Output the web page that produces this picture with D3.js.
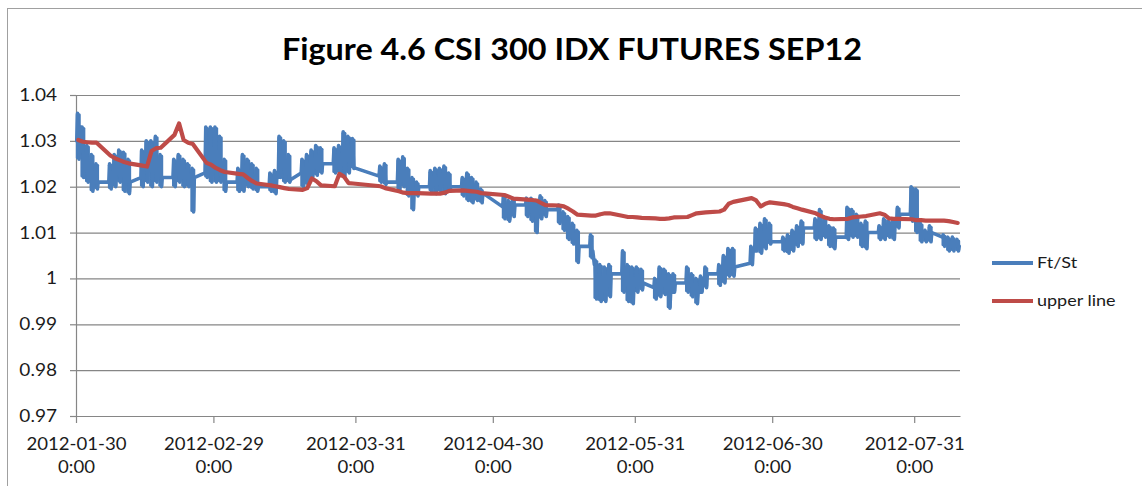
<!DOCTYPE html>
<html>
<head>
<meta charset="utf-8">
<script src="https://cdn.jsdelivr.net/npm/d3@7"></script>
<style>
  html, body { margin: 0; padding: 0; background: #fff; }
  svg { display: block; font-family: Lato, 'Open Sans', sans-serif; }
</style>
</head>
<body>
<svg id="chart" width="1142" height="486"></svg>
<script>
// trading days shown on the chart (one bar per day)
const tradingDays = [
  '2012-01-30','2012-01-31','2012-02-01','2012-02-02','2012-02-03',
  '2012-02-06','2012-02-07','2012-02-08','2012-02-09','2012-02-10',
  '2012-02-13','2012-02-14','2012-02-15','2012-02-16','2012-02-17',
  '2012-02-20','2012-02-21','2012-02-22','2012-02-23','2012-02-24',
  '2012-02-27','2012-02-28','2012-02-29','2012-03-01','2012-03-02',
  '2012-03-05','2012-03-06','2012-03-07','2012-03-08','2012-03-09',
  '2012-03-12','2012-03-13','2012-03-14','2012-03-15','2012-03-16',
  '2012-03-19','2012-03-20','2012-03-21','2012-03-22','2012-03-23',
  '2012-03-26','2012-03-27','2012-03-28','2012-03-29','2012-03-30',
  '2012-04-05','2012-04-06',
  '2012-04-09','2012-04-10','2012-04-11','2012-04-12','2012-04-13',
  '2012-04-16','2012-04-17','2012-04-18','2012-04-19','2012-04-20',
  '2012-04-23','2012-04-24','2012-04-25','2012-04-26','2012-04-27',
  '2012-05-02','2012-05-03','2012-05-04',
  '2012-05-07','2012-05-08','2012-05-09','2012-05-10','2012-05-11',
  '2012-05-14','2012-05-15','2012-05-16','2012-05-17','2012-05-18',
  '2012-05-21','2012-05-22','2012-05-23','2012-05-24','2012-05-25',
  '2012-05-28','2012-05-29','2012-05-30','2012-05-31','2012-06-01',
  '2012-06-04','2012-06-05','2012-06-06','2012-06-07','2012-06-08',
  '2012-06-11','2012-06-12','2012-06-13','2012-06-14','2012-06-15',
  '2012-06-18','2012-06-19','2012-06-20','2012-06-21',
  '2012-06-25','2012-06-26','2012-06-27','2012-06-28','2012-06-29',
  '2012-07-02','2012-07-03','2012-07-04','2012-07-05','2012-07-06',
  '2012-07-09','2012-07-10','2012-07-11','2012-07-12','2012-07-13',
  '2012-07-16','2012-07-17','2012-07-18','2012-07-19','2012-07-20',
  '2012-07-23','2012-07-24','2012-07-25','2012-07-26','2012-07-27',
  '2012-07-30','2012-07-31','2012-08-01','2012-08-02','2012-08-03',
  '2012-08-06','2012-08-07','2012-08-08','2012-08-09'
]

// Ft/St intraday range per day
const ftOpen = [
  1.030,1.033,1.024,1.022,1.021, 1.021,1.022,1.024,1.023,1.022,
  1.022,1.025,1.026,1.024,1.023, 1.022,1.023,1.022,1.023,1.021,
  1.023,1.026,1.025,1.024,1.022, 1.021,1.022,1.023,1.022,1.021,
  1.020,1.021,1.022,1.026,1.023, 1.023,1.022,1.024,1.025,1.024,
  1.025,1.026,1.025,1.027,1.026, 1.0223,1.022,
  1.021,1.022,1.021,1.020,1.019, 1.020,1.022,1.021,1.022,1.021,
  1.020,1.021,1.020,1.019,1.018, 1.0156,1.015,1.014,
  1.016,1.015,1.016,1.015,1.016, 1.015,1.014,1.012,1.010,1.009,
  1.007,1.003,0.999,0.998,1.000, 1.001,1.002,0.998,0.999,1.000,
  0.998,0.997,0.999,0.998,0.997, 0.999,1.000,0.998,0.997,0.999,
  1.001,1.002,1.003,1.004, 1.0033,1.006,1.009,1.008,1.010,
  1.008,1.007,1.008,1.009,1.010, 1.011,1.012,1.011,1.010,1.009,
  1.009,1.012,1.011,1.010,1.009, 1.010,1.010,1.011,1.010,1.012,
  1.014,1.017,1.011,1.010,1.009, 1.009,1.008,1.007,1.008
]
const ftHigh = [
  1.036,1.033,1.029,1.027,1.025, 1.025,1.027,1.028,1.0275,1.026,
  1.028,1.030,1.030,1.031,1.027, 1.026,1.027,1.026,1.025,1.024,
  1.033,1.033,1.033,1.031,1.026, 1.024,1.027,1.026,1.025,1.024,
  1.023,1.0235,1.031,1.030,1.027, 1.026,1.027,1.028,1.029,1.0285,
  1.0285,1.029,1.032,1.031,1.0305, 1.0245,1.025,
  1.026,1.0265,1.024,1.022,1.021, 1.0235,1.024,1.024,1.0245,1.023,
  1.022,1.023,1.022,1.021,1.0195, 1.018,1.017,1.0175,
  1.0175,1.0175,1.017,1.018,1.017, 1.016,1.0145,1.0135,1.012,1.0105,
  1.0095,1.004,1.003,1.0025,1.003, 1.006,1.003,1.0025,1.0025,1.002,
  1.000,1.0025,1.002,1.001,1.001, 1.0025,1.001,1.000,1.0005,1.0025,
  1.003,1.005,1.0065,1.0065, 1.007,1.011,1.012,1.013,1.012,
  1.009,1.0095,1.0105,1.0115,1.0125, 1.013,1.015,1.013,1.0115,1.011,
  1.0155,1.015,1.014,1.012,1.0125, 1.0115,1.013,1.0125,1.013,1.0155,
  1.020,1.0195,1.012,1.0105,1.0115, 1.0095,1.009,1.009,1.0085
]
const ftLow = [
  1.026,1.022,1.021,1.019,1.0195, 1.0195,1.020,1.021,1.019,1.0185,
  1.020,1.021,1.020,1.021,1.020, 1.020,1.021,1.020,1.020,1.0145,
  1.022,1.021,1.021,1.021,1.019, 1.019,1.019,1.020,1.0195,1.019,
  1.019,1.0185,1.022,1.021,1.021, 1.020,1.0205,1.022,1.0225,1.023,
  1.023,1.023,1.022,1.023,1.024, 1.021,1.0205,
  1.019,1.020,1.018,1.015,1.018, 1.019,1.0185,1.019,1.0185,1.019,
  1.018,1.017,1.0165,1.017,1.0165, 1.013,1.0125,1.0135,
  1.0135,1.0125,1.010,1.013,1.0135, 1.012,1.0105,1.0085,1.0075,1.0035,
  1.0045,0.9955,0.995,0.995,0.996, 0.997,0.995,0.9945,0.997,0.9975,
  0.9955,0.996,0.9965,0.9935,0.997, 0.997,0.996,0.9945,0.997,0.998,
  0.9985,0.999,1.0005,1.0005, 1.003,1.006,1.0055,1.0065,1.0075,
  1.006,1.0055,1.006,1.007,1.0075, 1.0085,1.0085,1.009,1.007,1.0065,
  1.0085,1.009,1.009,1.007,1.0065, 1.0085,1.0085,1.009,1.0085,1.011,
  1.0125,1.010,1.008,1.008,1.008, 1.007,1.006,1.006,1.006
]
const ftClose = [
  1.033,1.024,1.022,1.021,1.021, 1.022,1.024,1.023,1.022,1.021,
  1.025,1.026,1.024,1.023,1.022, 1.023,1.022,1.023,1.021,1.022,
  1.026,1.025,1.024,1.022,1.021, 1.022,1.023,1.022,1.021,1.020,
  1.021,1.022,1.026,1.023,1.0215, 1.022,1.024,1.025,1.024,1.025,
  1.026,1.025,1.027,1.026,1.0241, 1.022,1.021,
  1.022,1.021,1.020,1.019,1.020, 1.022,1.021,1.022,1.021,1.020,
  1.021,1.020,1.019,1.018,1.0186, 1.015,1.014,1.016,
  1.015,1.016,1.015,1.016,1.015, 1.014,1.012,1.010,1.009,1.007,
  1.006,0.999,0.998,1.000,1.001, 1.002,0.998,0.999,1.000,0.999,
  0.997,0.999,0.998,0.997,0.999, 1.000,0.998,0.997,0.999,1.001,
  1.002,1.003,1.004,1.0025, 1.006,1.009,1.008,1.010,1.008,
  1.007,1.008,1.009,1.010,1.011, 1.012,1.011,1.010,1.009,1.009,
  1.012,1.011,1.010,1.009,1.010, 1.010,1.011,1.010,1.012,1.014,
  1.017,1.011,1.010,1.009,1.010, 1.008,1.007,1.008,1.007
]
// upper line, one value per day
const upperLine = [
  1.0302,1.0298,1.0297,1.0296,1.0296, 1.0268,1.0262,1.0258,1.0254,1.0251,
  1.0246,1.0244,1.0278,1.0284,1.0285, 1.0313,1.0338,1.0302,1.0296,1.0293,
  1.0252,1.0248,1.0241,1.0236,1.0232, 1.0228,1.0227,1.0219,1.0212,1.0207,
  1.0203,1.0201,1.0199,1.0197,1.0195, 1.0193,1.0197,1.0218,1.0212,1.0203,
  1.0201,1.0228,1.0222,1.0208,1.0207, 1.0201,1.0197,
  1.0190,1.0187,1.0186,1.0186,1.0186, 1.0185,1.0185,1.0185,1.0187,1.0191,
  1.0192,1.0191,1.0190,1.0189,1.0186, 1.0182,1.0178,1.0174,
  1.0172,1.0171,1.0170,1.0165,1.0160, 1.0159,1.0157,1.0152,1.0146,1.0139,
  1.0137,1.0137,1.0140,1.0142,1.0142, 1.0136,1.0134,1.0134,1.0133,1.0132,
  1.0131,1.0130,1.0130,1.0131,1.0133, 1.0134,1.0138,1.0142,1.0143,1.0144,
  1.0146,1.0150,1.0163,1.0167, 1.0175,1.0170,1.0157,1.0163,1.0166,
  1.0162,1.0160,1.0156,1.0153,1.0150, 1.0142,1.0137,1.0133,1.0130,1.0129,
  1.0130,1.0133,1.0134,1.0135,1.0136, 1.0142,1.0139,1.0131,1.0130,1.0130,
  1.0129,1.0127,1.0127,1.0126,1.0126, 1.0126,1.0125,1.0123,1.0121
]

const yTicks = [0.97, 0.98, 0.99, 1.00, 1.01, 1.02, 1.03, 1.04]
const yTickLabels = ['0.97', '0.98', '0.99', '1', '1.01', '1.02', '1.03', '1.04']
const xTickDates = ['2012-01-30', '2012-02-29', '2012-03-31', '2012-04-30', '2012-05-31', '2012-06-30', '2012-07-31']
const xTimeLabel = '0:00'
const xDomain = ['2012-01-30', '2012-08-10']
const seriesNames = ['Ft/St', 'upper line']
const seriesColors = ['#4A7EBB', '#BE4B48']
const titleText = 'Figure 4.6 CSI 300 IDX FUTURES SEP12'

document.addEventListener('DOMContentLoaded', function () {
  drawChart()
})

// stretch text horizontally to the measured width in the picture
function stretchTo(sel, width) {
  sel.attr('textLength', width).attr('lengthAdjust', 'spacingAndGlyphs')
}
function stretchBy(sel, factor) {
  sel.each(function () {
    const w = this.getComputedTextLength()
    d3.select(this).attr('textLength', w * factor).attr('lengthAdjust', 'spacingAndGlyphs')
  })
}

function drawChart() {
  const parse = d3.timeParse('%Y-%m-%d')
  const svg = d3.select('#chart')
  const plot = { left: 76, right: 960, top: 95, bottom: 416 }
  const gray = '#868686'
  const textColor = '#1b1b1b'

  // chart area frame
  svg.append('rect')
    .attr('x', 7.5).attr('y', 8.5)
    .attr('width', 1160).attr('height', 520)
    .attr('fill', 'none').attr('stroke', '#a0a0a0').attr('stroke-width', 1)

  svg.append('text')
    .attr('class', 'title')
    .attr('x', 572).attr('y', 60)
    .attr('text-anchor', 'middle')
    .attr('font-size', 30).attr('font-weight', 'bold')
    .attr('fill', '#000')
    .text(titleText)
    .call(stretchTo, 580)

  const x = d3.scaleTime()
    .domain(xDomain.map(parse))
    .range([plot.left, plot.right])
  const y = d3.scaleLinear()
    .domain([0.97, 1.04])
    .range([plot.bottom, plot.top])

  // horizontal gridlines
  svg.append('g')
    .attr('transform', `translate(${plot.left},0)`)
    .call(d3.axisLeft(y).tickValues(yTicks).tickSize(-(plot.right - plot.left)).tickFormat(''))
    .call(g => g.select('.domain').remove())
    .call(g => g.selectAll('.tick line').attr('stroke', gray).attr('stroke-width', 1.2))

  // y axis
  const yAxis = svg.append('g')
    .attr('transform', `translate(${plot.left},0)`)
    .call(d3.axisLeft(y).tickValues(yTicks).tickSize(6).tickSizeOuter(0).tickPadding(13)
      .tickFormat((d, i) => yTickLabels[i]))
  yAxis.select('.domain').attr('stroke', gray).attr('stroke-width', 1.2)
  yAxis.selectAll('.tick line').attr('stroke', gray).attr('stroke-width', 1.2)
  yAxis.selectAll('.tick text')
    .attr('font-size', 17).attr('fill', textColor)
    .attr('font-family', 'Lato, sans-serif')
    .call(stretchBy, 1.12)

  // x axis
  const xAxis = svg.append('g')
    .attr('transform', `translate(0,${plot.bottom})`)
    .call(d3.axisBottom(x).tickValues(xTickDates.map(parse)).tickSize(7).tickSizeOuter(0).tickFormat(''))
  xAxis.select('.domain').attr('stroke', gray).attr('stroke-width', 1.2)
  xAxis.selectAll('.tick line').attr('stroke', gray).attr('stroke-width', 1.2)
  xAxis.selectAll('.tick text').remove()
  xAxis.selectAll('.tick').each(function (d, i) {
    const t = d3.select(this)
    t.append('text')
      .attr('y', 34).attr('text-anchor', 'middle')
      .attr('font-size', 17).attr('fill', textColor)
      .attr('font-family', 'Lato, sans-serif')
      .text(xTickDates[i])
      .call(stretchTo, 100)
    t.append('text')
      .attr('y', 57).attr('text-anchor', 'middle')
      .attr('font-size', 17).attr('fill', textColor)
      .attr('font-family', 'Lato, sans-serif')
      .text(xTimeLabel)
      .call(stretchTo, 37)
  })

  // intraday values of a day are spread over that day's slot
  const at = (s, h) => x(d3.timeHour.offset(parse(s), h))

  // intraday range of each day, drawn as a filled band
  svg.append('g')
    .selectAll('rect')
    .data(tradingDays)
    .join('rect')
    .attr('x', s => at(s, -1))
    .attr('width', s => at(s, 25) - at(s, -1))
    .attr('y', (s, i) => y(ftHigh[i]))
    .attr('height', (s, i) => y(ftLow[i]) - y(ftHigh[i]))
    .attr('rx', 1.5)
    .attr('fill', seriesColors[0])

  const ftPoints = []
  tradingDays.forEach((s, i) => {
    ftPoints.push({ x: at(s, 4), v: ftOpen[i] })
    ftPoints.push({ x: at(s, 8), v: ftHigh[i] })
    ftPoints.push({ x: at(s, 16), v: ftLow[i] })
    ftPoints.push({ x: at(s, 20), v: ftClose[i] })
  })

  svg.append('path')
    .datum(ftPoints)
    .attr('fill', 'none')
    .attr('stroke', seriesColors[0])
    .attr('stroke-width', 3.6)
    .attr('stroke-linejoin', 'round')
    .attr('stroke-linecap', 'round')
    .attr('d', d3.line().x(d => d.x).y(d => y(d.v)))

  svg.append('path')
    .datum(tradingDays.map((s, i) => ({ x: at(s, 12), v: upperLine[i] })))
    .attr('fill', 'none')
    .attr('stroke', seriesColors[1])
    .attr('stroke-width', 4.2)
    .attr('stroke-linejoin', 'round')
    .attr('stroke-linecap', 'round')
    .attr('d', d3.line().x(d => d.x).y(d => y(d.v)))

  // legend
  const legend = svg.append('g').attr('class', 'legend')
  const legendY = [263, 301]
  seriesNames.forEach((name, i) => {
    legend.append('line')
      .attr('x1', 992).attr('x2', 1033)
      .attr('y1', legendY[i]).attr('y2', legendY[i])
      .attr('stroke', seriesColors[i]).attr('stroke-width', 4)
    legend.append('text')
      .attr('x', 1037).attr('y', legendY[i] + 5)
      .attr('font-size', 15).attr('fill', textColor)
      .attr('font-family', 'Lato, sans-serif')
      .text(name)
      .call(stretchBy, 1.2)
  })
}
</script>
</body>
</html>
